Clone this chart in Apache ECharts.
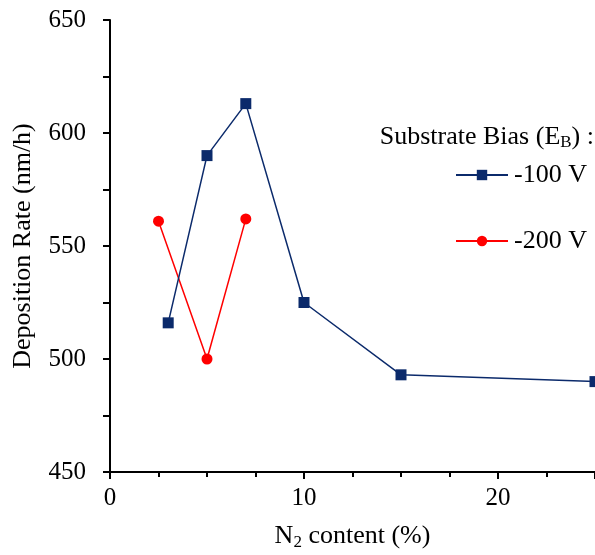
<!DOCTYPE html>
<html>
<head>
<meta charset="utf-8">
<script src="https://cdn.jsdelivr.net/npm/echarts@6/dist/echarts.min.js"></script>
<style>
  html, body { margin: 0; padding: 0; background: #fff; }
  #chart { width: 595px; height: 555px; }
</style>
</head>
<body>
<div id="chart"></div>
<script>
// N2 content (%) and deposition rate (nm/h) for each substrate bias
const n2Bias100 = [3, 5, 7, 10, 15, 25];
const rateBias100 = [516, 590, 613, 525, 493, 490];
const n2Bias200 = [2.5, 5, 7];
const rateBias200 = [561, 500, 562];
const seriesNames = ['-100 V', '-200 V'];

const FONT = '"Liberation Serif", "Times New Roman", serif';
const NAVY = '#0b2a6b';
const RED = '#ff0000';

const pair = (xs, ys) => xs.map((x, i) => [x, ys[i]]);

const chart = echarts.init(document.getElementById('chart'), null, { renderer: 'canvas' });

chart.setOption({
  animation: false,
  backgroundColor: '#ffffff',
  grid: { left: 110, right: 0, top: 20, bottom: 83, containLabel: false, outerBoundsMode: 'none' },
  xAxis: {
    type: 'value',
    min: 0, max: 25, interval: 10,
    name: '{n|N}{s|2}{n| content (%)}',
    nameLocation: 'middle',
    nameGap: 50,
    nameTextStyle: {
      rich: {
        n: { fontFamily: FONT, fontSize: 26, color: '#000' },
        s: { fontFamily: FONT, fontSize: 17, color: '#000', verticalAlign: 'bottom', padding: [12, 0, 0, 0] }
      }
    },
    axisLine: { show: true, lineStyle: { color: '#000', width: 2 } },
    axisTick: { show: true, inside: false, length: 7, lineStyle: { color: '#000', width: 2 } },
    minorTick: { show: true, splitNumber: 4, length: 5, lineStyle: { color: '#000', width: 2 } },
    axisLabel: { fontFamily: FONT, fontSize: 25, color: '#000', margin: 14, showMaxLabel: false },
    splitLine: { show: false },
    minorSplitLine: { show: false }
  },
  yAxis: {
    type: 'value',
    min: 450, max: 650, interval: 50,
    name: 'Deposition Rate (nm/h)',
    nameLocation: 'middle',
    nameRotate: 90,
    nameGap: 74,
    nameTextStyle: { fontFamily: FONT, fontSize: 26, color: '#000' },
    axisLine: { show: true, lineStyle: { color: '#000', width: 2 } },
    axisTick: { show: true, inside: false, length: 7, lineStyle: { color: '#000', width: 2 } },
    minorTick: { show: true, splitNumber: 2, length: 7, lineStyle: { color: '#000', width: 2 } },
    axisLabel: { fontFamily: FONT, fontSize: 25, color: '#000', margin: 24 },
    splitLine: { show: false },
    minorSplitLine: { show: false }
  },
  legend: {
    orient: 'vertical',
    left: 450,
    top: 157,
    itemGap: 40,
    itemWidth: 52,
    itemHeight: 13,
    data: seriesNames,
    textStyle: { fontFamily: FONT, fontSize: 26, color: '#000', padding: [0, 0, 0, 1] }
  },
  graphic: [{
    type: 'text',
    right: 1,
    top: 124,
    style: {
      text: '{n|Substrate Bias (E}{s|B}{n|) :}',
      rich: {
        n: { fontFamily: FONT, fontSize: 26, fill: '#000' },
        s: { fontFamily: FONT, fontSize: 17, fill: '#000', verticalAlign: 'bottom', padding: [12, 0, 0, 0] }
      }
    }
  }],
  series: [
    {
      name: seriesNames[0],
      type: 'line',
      data: pair(n2Bias100, rateBias100),
      symbol: 'rect',
      symbolSize: 11,
      clip: false,
      lineStyle: { color: NAVY, width: 1.5 },
      itemStyle: { color: NAVY },
      z: 3
    },
    {
      name: seriesNames[1],
      type: 'line',
      data: pair(n2Bias200, rateBias200),
      symbol: 'circle',
      symbolSize: 11,
      clip: false,
      lineStyle: { color: RED, width: 1.5 },
      itemStyle: { color: RED },
      z: 2
    }
  ]
});
</script>
</body>
</html>
